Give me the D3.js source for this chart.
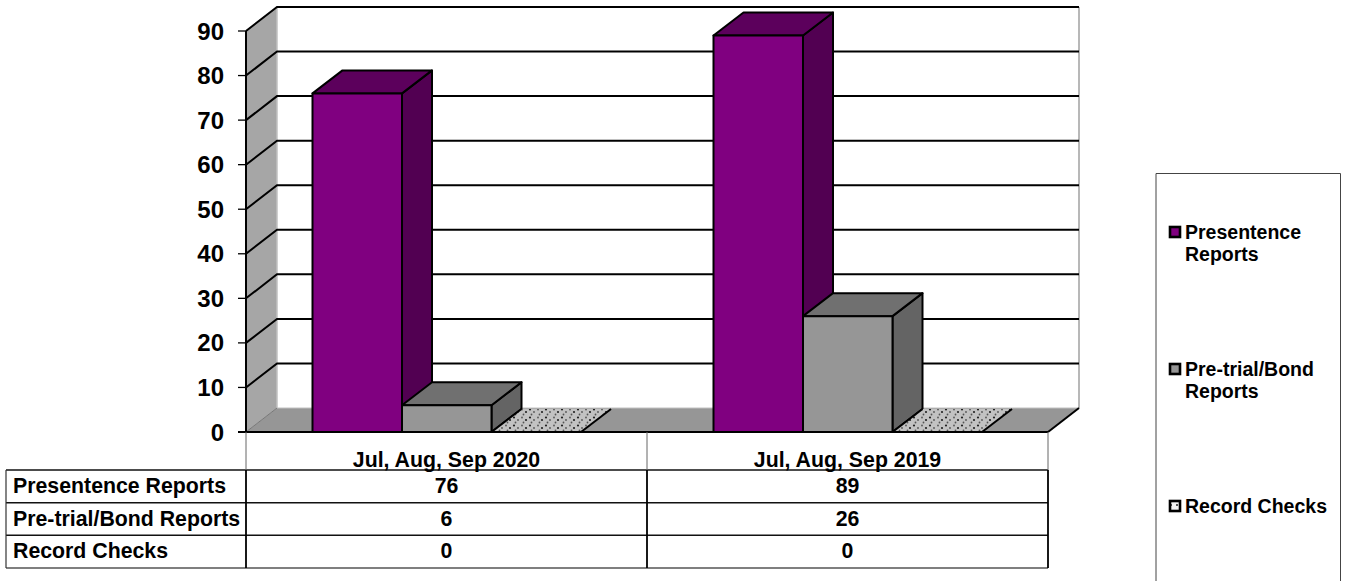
<!DOCTYPE html>
<html><head><meta charset="utf-8">
<script src="https://cdn.jsdelivr.net/npm/d3@7/dist/d3.min.js"></script>
<style>html,body{margin:0;padding:0;background:#fff;overflow:hidden}svg{display:block}text{font-family:"Liberation Sans",Arial,sans-serif;font-weight:bold;fill:#000}</style>
</head><body><svg id="c" width="1345" height="581"></svg>
<script>
const categories=["Jul, Aug, Sep 2020","Jul, Aug, Sep 2019"];
const seriesNames=["Presentence Reports","Pre-trial/Bond Reports","Record Checks"];
const presentence=[76,89];
const pretrial=[6,26];
const recordChecks=[0,0];
const yTicks=[0,10,20,30,40,50,60,70,80,90];
const legendLines=[["Presentence","Reports"],["Pre-trial/Bond","Reports"],["Record Checks"]];
const seriesValues=[presentence,pretrial,recordChecks];
const frontColors=["#800080","#969696","#c4c4c4"];
const topColors=["#5c005c","#707070","url(#dots)"];
const sideColors=["#520052","#646464","#555"];

const svg=d3.select("#c");
const defs=svg.append("defs");
const pat=defs.append("pattern").attr("id","dots").attr("width",16).attr("height",8)
  .attr("patternUnits","userSpaceOnUse");
pat.append("rect").attr("width",16).attr("height",8).attr("fill","#c2c2c2");
[[2,1.5],[10,1.5],[6,4],[14,4],[3.5,6.5],[11.5,6.5]].forEach((p,i)=>{
  pat.append("circle").attr("cx",p[0]).attr("cy",p[1]).attr("r",i%3==0?1.1:.9).attr("fill",i%3==0?"#222":"#555");
});
const pat2=defs.append("pattern").attr("id","legendDots").attr("width",6).attr("height",6).attr("patternUnits","userSpaceOnUse");
pat2.append("rect").attr("width",6).attr("height",6).attr("fill","#f4f4f4");
pat2.append("circle").attr("cx",1).attr("cy",1).attr("r",1).attr("fill","#222");

const x0=246,x1=1048,dxW=31,dyW=24,dxB=30,dyB=23;
const y=d3.scaleLinear().domain([0,90]).range([432,31]);
const xCat=d3.scaleBand().domain(categories).range([x0,x1]);
const xSer=d3.scaleBand().domain(seriesNames).range([66.5,66.5+268.5]);
const pts=a=>a.map(p=>p.join(",")).join(" ");

// walls
svg.append("polygon").attr("points",pts([[x0,y(0)],[x0+dxW,y(0)-dyW],[x0+dxW,y(90)-dyW],[x0,y(90)]])).attr("fill","#a6a6a6");
svg.append("polygon").attr("points",pts([[x0,y(0)],[x0+dxW,y(0)-dyW],[x1+dxW,y(0)-dyW],[x1,y(0)]])).attr("fill","#969696");
svg.append("line").attr("x1",x0+dxW).attr("x2",x0+dxW).attr("y1",y(90)-dyW).attr("y2",y(0)-dyW).attr("stroke","#c0c0c0").attr("stroke-width",1.5);
svg.append("line").attr("x1",x0+dxW).attr("x2",x1+dxW).attr("y1",y(0)-dyW).attr("y2",y(0)-dyW).attr("stroke","#c0c0c0").attr("stroke-width",1);
svg.append("line").attr("x1",x1+dxW).attr("x2",x1+dxW).attr("y1",y(90)-dyW).attr("y2",y(0)-dyW).attr("stroke","#a0a0a0").attr("stroke-width",1.5);
// gridlines
yTicks.filter(t=>t>0).forEach(t=>{
  svg.append("polyline").attr("points",pts([[x0,y(t)],[x0+dxW,y(t)-dyW],[x1+dxW,y(t)-dyW]]))
    .attr("fill","none").attr("stroke","#000").attr("stroke-width",2);
});
// floor front edges
svg.append("line").attr("x1",x0).attr("x2",x0+dxW).attr("y1",y(0)).attr("y2",y(0)-dyW).attr("stroke","#777").attr("stroke-width",1);
svg.append("line").attr("x1",x1).attr("x2",x1+dxW).attr("y1",y(0)).attr("y2",y(0)-dyW).attr("stroke","#000").attr("stroke-width",2);
// y axis
svg.append("line").attr("x1",x0).attr("x2",x0).attr("y1",y(90)).attr("y2",y(0)).attr("stroke","#000").attr("stroke-width",2);
yTicks.forEach(t=>{
  svg.append("line").attr("x1",x0-8).attr("x2",x0).attr("y1",y(t)).attr("y2",y(t)).attr("stroke","#000").attr("stroke-width",1.3);
  svg.append("text").attr("x",224).attr("y",y(t)+8.5).attr("text-anchor","end").attr("font-size",24).text(t);
});
// bars
categories.forEach((c,ci)=>{
  seriesNames.forEach((s,si)=>{
    const v=seriesValues[si][ci];
    const l=xCat(c)+xSer(s),r=l+xSer.bandwidth(),t=y(v),b=y(0);
    const st={stroke:"#000","stroke-width":2,"stroke-linejoin":"round"};
    const add=(p,f,o)=>{const e=svg.append("polygon").attr("points",pts(p)).attr("fill",f);
      Object.entries(o||st).forEach(([k,val])=>e.attr(k,val));};
    if(v>0){
      add([[r,b],[r+dxB,b-dyB],[r+dxB,t-dyB],[r,t]],sideColors[si]);
      add([[l,t],[l+dxB,t-dyB],[r+dxB,t-dyB],[r,t]],topColors[si]);
      add([[l,t],[r,t],[r,b],[l,b]],frontColors[si]);
    } else {
      add([[l,b],[l+dxB,b-dyB],[r+dxB,b-dyB],[r,b]],topColors[si],{stroke:"none"});
      svg.append("line").attr("x1",r).attr("x2",r+dxB).attr("y1",b).attr("y2",b-dyB).attr("stroke","#000").attr("stroke-width",2);
      svg.append("line").attr("x1",l).attr("x2",l+dxB).attr("y1",b).attr("y2",b-dyB).attr("stroke","#000").attr("stroke-width",2);
    }
  });
});
// base line
svg.append("line").attr("x1",x0-8).attr("x2",x1).attr("y1",y(0)).attr("y2",y(0)).attr("stroke","#000").attr("stroke-width",2);

// data table
const rowY=d3.scalePoint().domain(d3.range(4)).range([470,568]);
const colX=[x0,xCat(categories[1]),x1];
const tl=6;
rowY.domain().forEach(i=>{
  svg.append("line").attr("x1",tl).attr("x2",x1).attr("y1",rowY(i)).attr("y2",rowY(i)).attr("stroke",i==3?"#555":"#111").attr("stroke-width",1.5);
});
svg.append("line").attr("x1",tl).attr("x2",tl).attr("y1",470).attr("y2",568).attr("stroke","#333").attr("stroke-width",1.2);
colX.forEach(cx=>{
  svg.append("line").attr("x1",cx).attr("x2",cx).attr("y1",432).attr("y2",470).attr("stroke","#666").attr("stroke-width",1);
  svg.append("line").attr("x1",cx).attr("x2",cx).attr("y1",470).attr("y2",568).attr("stroke","#000").attr("stroke-width",1.8);
});
categories.forEach(c=>{
  svg.append("text").attr("x",xCat(c)+xCat.bandwidth()/2).attr("y",467).attr("text-anchor","middle").attr("font-size",21.3).text(c);
});
seriesNames.forEach((s,si)=>{
  const ty=rowY(si)+23;
  svg.append("text").attr("x",13).attr("y",ty).attr("font-size",21.3).text(s);
  categories.forEach((c,ci)=>{
    svg.append("text").attr("x",xCat(c)+xCat.bandwidth()/2).attr("y",ty).attr("text-anchor","middle").attr("font-size",21.3).text(seriesValues[si][ci]);
  });
});

// legend
svg.append("path").attr("d","M1156,581V173.5H1340.5V581").attr("fill","#fff").attr("stroke","#444").attr("stroke-width",1);
const legendY=[232,369,506];
const legendFill=["#800080","#969696","url(#legendDots)"];
legendLines.forEach((ls,i)=>{
  svg.append("rect").attr("x",1170).attr("y",legendY[i]-5).attr("width",10).attr("height",10)
    .attr("fill",legendFill[i]).attr("stroke","#000").attr("stroke-width",2.6);
  ls.forEach((t,j)=>{
    svg.append("text").attr("x",1185).attr("y",legendY[i]+7+j*22).attr("font-size",19.5).text(t);
  });
});
</script></body></html>
